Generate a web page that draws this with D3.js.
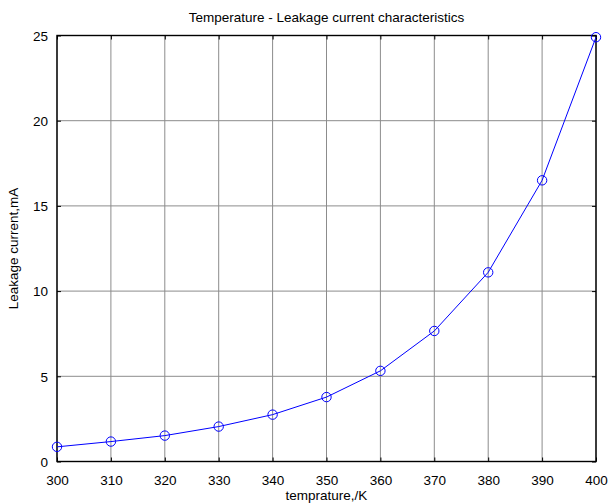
<!DOCTYPE html>
<html>
<head>
<meta charset="utf-8">
<script src="https://cdn.jsdelivr.net/npm/d3@7"></script>
<style>
  body { margin: 0; background: #fff; }
  svg { display: block; font-family: "Liberation Sans", Arial, sans-serif; }
  .tick text { font-size: 13.5px; fill: #000; }
</style>
</head>
<body>
<svg id="chart" width="609" height="504"></svg>
<script>
// temperature (K) vs leakage current (mA)
const temps = [300, 310, 320, 330, 340, 350, 360, 370, 380, 390, 400];
const leakage = [0.86, 1.17, 1.52, 2.05, 2.75, 3.78, 5.32, 7.66, 11.1, 16.5, 24.9];
const xTicks = [300, 310, 320, 330, 340, 350, 360, 370, 380, 390, 400];
const yTicks = [0, 5, 10, 15, 20, 25];

const margin = { top: 35.5, right: 13, bottom: 42.5, left: 57 };
const width = 609 - margin.left - margin.right;
const height = 504 - margin.top - margin.bottom;

const svg = d3.select('#chart');
const g = svg.append('g')
    .attr('transform', `translate(${margin.left},${margin.top})`);

const x = d3.scaleLinear().domain([300, 400]).range([0, width]);
const y = d3.scaleLinear().domain([0, 25]).range([height, 0]);

// grid
g.append('g')
    .selectAll('line')
    .data(xTicks)
    .enter()
    .append('line')
    .attr('x1', d => x(d)).attr('x2', d => x(d))
    .attr('y1', 0).attr('y2', height)
    .attr('stroke', '#8c8c8c')
    .attr('stroke-width', 1);

g.append('g')
    .selectAll('line')
    .data(yTicks)
    .enter()
    .append('line')
    .attr('x1', 0).attr('x2', width)
    .attr('y1', d => y(d)).attr('y2', d => y(d))
    .attr('stroke', '#8c8c8c')
    .attr('stroke-width', 1);

// axes, ticks pointing inward like matlab
let xAxis = g.append('g')
    .attr('transform', `translate(0,${height})`)
    .call(d3.axisBottom(x).tickValues(xTicks).tickSizeInner(-4).tickSizeOuter(0).tickPadding(14));

let yAxis = g.append('g')
    .call(d3.axisLeft(y).tickValues(yTicks).tickSizeInner(-4).tickSizeOuter(0).tickPadding(9));

g.append('g')
    .call(d3.axisTop(x).tickValues(xTicks).tickSizeInner(-4).tickSizeOuter(0).tickFormat(''));

g.append('g')
    .attr('transform', `translate(${width},0)`)
    .call(d3.axisRight(y).tickValues(yTicks).tickSizeInner(-4).tickSizeOuter(0).tickFormat(''));

g.selectAll('.domain').remove();
g.selectAll('.tick line').attr('stroke', '#000');
yAxis.selectAll('.tick text').attr('dy', '0.36em');

// box
g.append('rect')
    .attr('width', width)
    .attr('height', height)
    .attr('fill', 'none')
    .attr('stroke', '#000')
    .attr('stroke-width', 1.4);

// series
const line = d3.line()
    .x((d, i) => x(temps[i]))
    .y(d => y(d));

g.append('path')
    .datum(leakage)
    .attr('d', line)
    .attr('fill', 'none')
    .attr('stroke', '#0000ff')
    .attr('stroke-width', 1);

g.selectAll('.marker')
    .data(leakage)
    .enter()
    .append('circle')
    .attr('class', 'marker')
    .attr('cx', (d, i) => x(temps[i]))
    .attr('cy', d => y(d))
    .attr('r', 4.7)
    .attr('fill', 'none')
    .attr('stroke', '#0000ff')
    .attr('stroke-width', 1);

// labels
svg.append('text')
    .attr('x', margin.left + width / 2)
    .attr('y', 22)
    .attr('text-anchor', 'middle')
    .style('font-size', '13.5px')
    .text('Temperature - Leakage current characteristics');

svg.append('text')
    .attr('x', margin.left + width / 2)
    .attr('y', 500)
    .attr('text-anchor', 'middle')
    .style('font-size', '13.5px')
    .text('temprature,/K');

svg.append('text')
    .attr('transform', `translate(18,${margin.top + height / 2}) rotate(-90)`)
    .attr('text-anchor', 'middle')
    .style('font-size', '13.5px')
    .text('Leakage current,mA');
</script>
</body>
</html>
